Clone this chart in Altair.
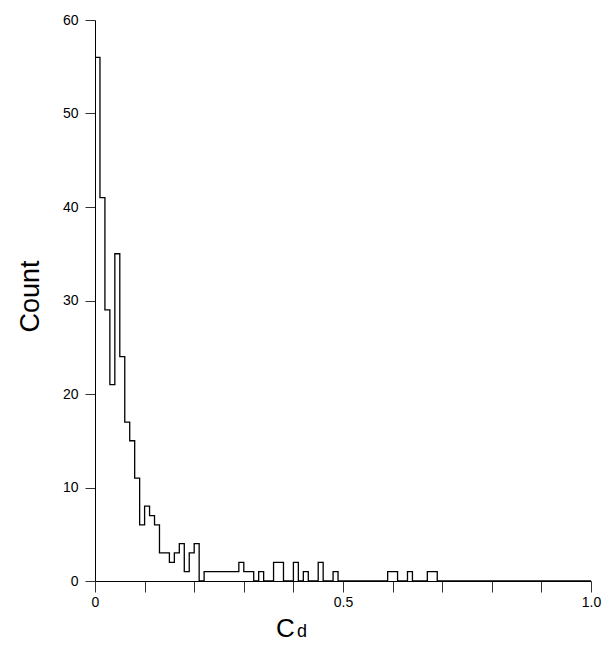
import altair as alt
import pandas as pd

# histogram counts, bins of width 0.01 from 0.00 to 1.00
bin_width = 0.01
counts = [56, 41, 29, 21, 35, 24, 17, 15, 11, 6,
          8, 7, 6, 3, 3, 2, 3, 4, 1, 3,
          4, 0, 1, 1, 1, 1, 1, 1, 1, 2,
          1, 1, 0, 1, 0, 0, 2, 2, 0, 0,
          2, 0, 1, 0, 0, 2, 0, 0, 1, 0,
          0, 0, 0, 0, 0, 0, 0, 0, 0, 1,
          1, 0, 0, 1, 0, 0, 0, 1, 1, 0,
          0, 0, 0, 0, 0, 0, 0, 0, 0, 0,
          0, 0, 0, 0, 0, 0, 0, 0, 0, 0,
          0, 0, 0, 0, 0, 0, 0, 0, 0, 0]
x_ticks = [0, 0.1, 0.2, 0.3, 0.4, 0.5, 0.6, 0.7, 0.8, 0.9, 1.0]
y_ticks = [0, 10, 20, 30, 40, 50, 60]

edges = [round(i * bin_width, 4) for i in range(len(counts) + 1)]
vals = counts + [counts[-1]]
df = pd.DataFrame({"x": edges, "count": vals})

FONT = "Liberation Sans"

hist = alt.Chart(df).mark_line(interpolate="step-after", color="black", strokeWidth=1.3).encode(
    x=alt.X("x:Q",
            scale=alt.Scale(domain=[0, 1], nice=False, zero=False),
            axis=alt.Axis(values=x_ticks,
                          labelExpr="abs(datum.value) < 1e-6 ? '0' : (abs(datum.value-0.5) < 1e-6 ? '0.5' : (abs(datum.value-1) < 1e-6 ? '1.0' : ''))",
                          title="C", titleFontSize=26, titleFont=FONT, titleFontWeight="normal",
                          titleX=190, titleY=55, titleAlign="center", titleBaseline="alphabetic",
                          tickSize=11, labelPadding=3, labelFontSize=14, labelFont=FONT,
                          grid=False, domainColor="black", tickColor="#333333",
                          labelColor="black", titleColor="black", labelFlush=False)),
    y=alt.Y("count:Q",
            scale=alt.Scale(domain=[0, 60], nice=False),
            axis=alt.Axis(values=y_ticks, title="Count", titleFontSize=27, titleFont=FONT,
                          titleFontWeight="normal", titleX=-65, titleY=276,
                          titleBaseline="middle", titleAlign="center",
                          tickSize=10, labelPadding=7, labelFontSize=14, labelFont=FONT,
                          grid=False, domainColor="black", tickColor="#333333",
                          labelColor="black", titleColor="black"))
)

sub = alt.Chart(pd.DataFrame({"t": ["d"]})).mark_text(
    font=FONT, fontSize=18, color="black", align="left", baseline="alphabetic"
).encode(text="t:N", x=alt.value(202), y=alt.value(617))

chart = alt.layer(hist, sub).properties(
    width=496, height=561,
    autosize=alt.AutoSizeParams(type="none"),
    padding={"left": 87, "top": 12, "right": 11, "bottom": 60},
).configure_view(stroke=None)

chart.save("out.html", embed_options={"renderer": "svg", "actions": False})
